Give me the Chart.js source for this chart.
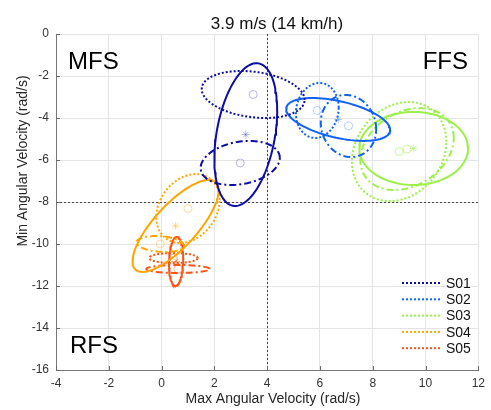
<!DOCTYPE html>
<html>
<head>
<meta charset="utf-8">
<script src="https://cdn.jsdelivr.net/npm/chart.js@4.4.0/dist/chart.umd.min.js"></script>
<style>
  html, body { margin: 0; padding: 0; background: #fff; }
  #wrap { width: 491px; height: 410px; position: relative; }
</style>
</head>
<body>
<div id="wrap"><canvas id="chart"></canvas></div>
<script>
// subjects and colours
const subjects = ['S01', 'S02', 'S03', 'S04', 'S05'];
const colors = ['#0c0ca6', '#0f62f5', '#9cf04a', '#ffa500', '#ff5214'];
const markerColors = ['rgba(12,12,166,0.3)', 'rgba(15,98,245,0.3)', 'rgba(156,240,74,0.5)', 'rgba(255,165,0,0.4)', 'rgba(255,82,20,0.4)'];

// ellipse centres, half widths, half heights, tilt (correlation) - dotted condition
const dottedX = [3.47, 5.90, 9.00, 1.00, 0.45];
const dottedY = [-2.88, -3.64, -5.60, -8.31, -10.67];
const dottedRx = [1.95, 0.81, 1.79, 1.20, 0.92];
const dottedRy = [1.12, 1.31, 2.36, 1.64, 0.24];
const dottedRho = [-0.23, 0.10, 0.20, 0.25, 0.0];

// solid condition
const solidX = [3.19, 6.69, 9.55, 0.53, 0.55];
const solidY = [-4.79, -4.07, -5.45, -9.14, -10.83];
const solidRx = [1.19, 1.97, 2.06, 1.63, 0.27];
const solidRy = [3.40, 1.02, 1.74, 2.19, 1.17];
const solidRho = [0.34, -0.49, 0.0, 0.77, 0.10];

// dash-dot condition
const dashX = [2.98, 7.08, 9.30, -0.05, 0.62];
const dashY = [-6.14, -4.38, -5.48, -10.00, -11.19];
const dashRx = [1.50, 1.05, 1.77, 0.90, 1.20];
const dashRy = [1.05, 1.48, 1.95, 0.38, 0.19];
const dashRho = [0.23, -0.10, 0.27, -0.20, 0.0];

// threshold lines
const xSplit = 4;
const ySplit = -8;

const xMin = -4, xMax = 12, yMin = -16, yMax = 0;

function ellipse(cx, cy, rx, ry, rho) {
    const pts = [];
    const n = 90;
    const s = Math.sqrt(1 - rho * rho);
    for (let i = 0; i <= n; i++) {
        const t = i / n * 2 * Math.PI;
        pts.push({ x: cx + rx * Math.cos(t), y: cy + ry * (rho * Math.cos(t) + s * Math.sin(t)) });
    }
    return pts;
}

const conditions = [
    { xs: dottedX, ys: dottedY, rx: dottedRx, ry: dottedRy, rho: dottedRho, dash: [2, 2], marker: 'circle' },
    { xs: dashX, ys: dashY, rx: dashRx, ry: dashRy, rho: dashRho, dash: [7, 3, 2, 3], marker: 'circle' },
    { xs: solidX, ys: solidY, rx: solidRx, ry: solidRy, rho: solidRho, dash: [], marker: 'star' }
];

const datasets = [];
subjects.forEach((name, i) => {
    conditions.forEach(c => {
        datasets.push({
            label: name,
            data: ellipse(c.xs[i], c.ys[i], c.rx[i], c.ry[i], c.rho[i]),
            showLine: true,
            borderColor: colors[i],
            borderWidth: 2,
            borderDash: c.dash,
            pointRadius: 0,
            fill: false,
            tension: 0
        });
        datasets.push({
            label: name + ' centre',
            data: [{ x: c.xs[i], y: c.ys[i] }],
            showLine: false,
            pointStyle: c.marker,
            pointRadius: 4,
            borderColor: markerColors[i],
            backgroundColor: 'rgba(0,0,0,0)',
            borderWidth: 1
        });
    });
});

const textFont = '"Liberation Sans", Arial, Helvetica, sans-serif';

const decorations = {
    id: 'decorations',
    beforeDatasetsDraw(chart) {
        const { ctx, chartArea: a, scales: { x, y } } = chart;
        ctx.save();
        ctx.strokeStyle = '#444';
        ctx.lineWidth = 1;
        ctx.setLineDash([2, 2]);
        const px = Math.round(x.getPixelForValue(xSplit)) + 0.5;
        const py = Math.round(y.getPixelForValue(ySplit)) + 0.5;
        ctx.beginPath();
        ctx.moveTo(px, a.top); ctx.lineTo(px, a.bottom);
        ctx.moveTo(a.left, py); ctx.lineTo(a.right, py);
        ctx.stroke();
        ctx.restore();
    },
    afterDraw(chart) {
        const { ctx, chartArea: a, scales: { x, y } } = chart;
        ctx.save();
        // inward ticks
        ctx.strokeStyle = '#666';
        ctx.lineWidth = 1;
        x.ticks.forEach(t => {
            const p = Math.round(x.getPixelForValue(t.value)) + 0.5;
            ctx.beginPath(); ctx.moveTo(p, a.bottom); ctx.lineTo(p, a.bottom - 4); ctx.stroke();
        });
        y.ticks.forEach(t => {
            const p = Math.round(y.getPixelForValue(t.value)) + 0.5;
            ctx.beginPath(); ctx.moveTo(a.left, p); ctx.lineTo(a.left + 4, p); ctx.stroke();
        });

        ctx.fillStyle = '#111';
        ctx.textBaseline = 'alphabetic';
        // title
        ctx.font = '17px ' + textFont;
        ctx.textAlign = 'center';
        ctx.fillText('3.9 m/s (14 km/h)', 277, 29);
        // axis titles
        ctx.font = '14px ' + textFont;
        ctx.fillStyle = '#262626';
        ctx.fillText('Max Angular Velocity (rad/s)', 273, 403);
        ctx.save();
        ctx.translate(27, 161);
        ctx.rotate(-Math.PI / 2);
        ctx.fillText('Min Angular Velocity (rad/s)', 0, 0);
        ctx.restore();
        // region labels
        ctx.fillStyle = '#000';
        ctx.font = '24px ' + textFont;
        ctx.textAlign = 'left';
        ctx.fillText('MFS', 68, 69);
        ctx.fillText('RFS', 70, 353);
        ctx.textAlign = 'right';
        ctx.fillText('FFS', 468, 69);
        // legend
        ctx.font = '14px ' + textFont;
        ctx.textAlign = 'left';
        ctx.textBaseline = 'middle';
        subjects.forEach((name, i) => {
            const ly = 283 + i * 16.3;
            ctx.strokeStyle = colors[i];
            ctx.lineWidth = 2;
            ctx.setLineDash([2, 2]);
            ctx.beginPath(); ctx.moveTo(402, ly); ctx.lineTo(442, ly); ctx.stroke();
            ctx.setLineDash([]);
            ctx.fillStyle = '#111';
            ctx.fillText(name, 446, ly + 1);
        });
        ctx.restore();
    }
};

new Chart(document.getElementById('chart'), {
    type: 'scatter',
    data: { datasets: datasets },
    options: {
        responsive: true,
        maintainAspectRatio: false,
        animation: false,
        layout: { padding: { left: 0, right: 9, top: 34, bottom: 0 } },
        plugins: {
            legend: { display: false },
            title: { display: false },
            tooltip: { enabled: false }
        },
        scales: {
            x: {
                type: 'linear',
                min: xMin, max: xMax,
                ticks: { stepSize: 2, padding: 6, color: '#333', font: { size: 12, family: textFont }, maxRotation: 0 },
                grid: { color: '#e4e4e4', drawTicks: false },
                border: { color: '#777' },
                afterFit(scale) { scale.height = 40; }
            },
            y: {
                type: 'linear',
                min: yMin, max: yMax,
                ticks: { stepSize: 2, padding: 7, color: '#333', font: { size: 12, family: textFont } },
                grid: { color: '#e4e4e4', drawTicks: false },
                border: { color: '#777' },
                afterFit(scale) { scale.width = 56; }
            }
        }
    },
    plugins: [decorations]
});
</script>
</body>
</html>
